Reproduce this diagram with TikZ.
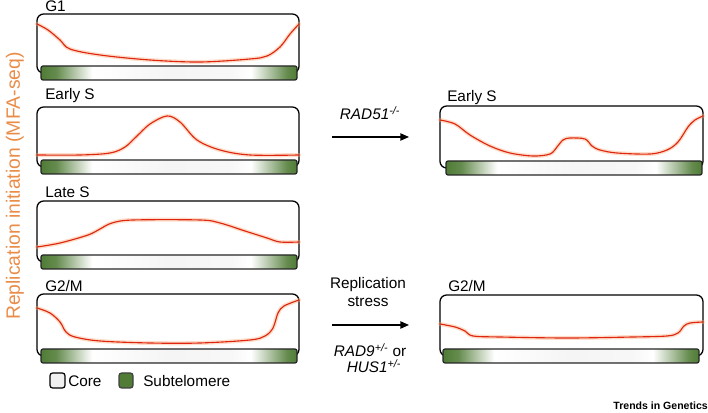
\documentclass[tikz,border=0pt]{standalone}
\usepackage{fontspec}
\setmainfont{Liberation Sans}
\usetikzlibrary{arrows.meta}
\definecolor{sg}{RGB}{80,124,54}
\definecolor{curvered}{RGB}{222,38,16}
\definecolor{glowc}{RGB}{250,170,120}
\definecolor{axisorange}{RGB}{233,140,72}
\pgfdeclarehorizontalshading{barshade}{100bp}{color(0bp)=(sg); color(25bp)=(sg); color(28bp)=(sg!88!white); color(31bp)=(sg!50!white); color(35bp)=(white); color(50bp)=(black!4); color(62bp)=(black!3); color(66bp)=(white); color(70bp)=(sg!50!white); color(73bp)=(sg!88!white); color(75bp)=(sg); color(100bp)=(sg)}
\tikzset{
  boxline/.style={draw=black, line width=0.95pt, rounded corners=5pt},
  barfill/.style={draw=black!85, line width=0.9pt, rounded corners=1.5pt, shading=barshade},
  curveglow/.style={draw=glowc, line width=3pt, opacity=0.4, line cap=round, line join=round},
  curveline/.style={draw=curvered, line width=0.85pt, line cap=round, line join=round},
  lbl/.style={font=\fontsize{11.5}{13}\selectfont, inner sep=0pt, anchor=base west},
  albl/.style={font=\fontsize{11.5}{13}\selectfont, inner sep=0pt, anchor=base},
  arr/.style={line width=1pt, -{Triangle[length=6.5pt,width=5.5pt]}},
}
\newcommand\panelbox[6]{%
  \draw[boxline] (#1,#3) rectangle (#2,#6+7);
}
\newcommand\panelbar[3]{%
  \path[barfill] (#1,#3) rectangle (#2,#3+14);
}
\newcommand\replcurve[1]{%
  \draw[curveglow] plot[smooth,tension=0.55] coordinates {#1};
  \draw[curveline] plot[smooth,tension=0.55] coordinates {#1};
}
\begin{document}
\begin{tikzpicture}[x=0.75pt,y=-0.75pt]
\useasboundingbox (0,0) rectangle (708,413);

% y axis label
\node[rotate=90, text=axisorange, font=\fontsize{14.5}{16}\selectfont, inner sep=0pt] (ylab) at (15,186) {Replication initiation (MFA-seq)};

% ---- G1 ----
\node[lbl] (lg1) at (45,12) {G1};
\panelbox{37}{299}{14}{41}{297}{66}
\replcurve{(37,24) (48,30) (60,40) (70,49) (100,55) (150,60) (200,62) (250,59) (267,56) (280,47) (290,34) (299,24)}
\panelbar{41}{297}{66}

% ---- Early S ----
\node[lbl] (les) at (45,100) {Early S};
\panelbox{37}{299}{107}{41}{297}{160}
\replcurve{(37,155) (80,155) (110,153) (125,147) (137,136) (150,124) (167,116) (180,122) (197,140) (220,150) (250,155) (299,155)}
\panelbar{41}{297}{160}

% ---- Late S ----
\node[lbl] (lls) at (45,198) {Late S};
\panelbox{37}{299}{201}{41}{297}{255}
\replcurve{(37,247) (60,243) (88,235) (100,229) (112,223) (133,220) (200,220) (220,223) (245,231) (267,238) (280,242) (299,242)}
\panelbar{41}{297}{255}

% ---- G2/M ----
\node[lbl] (lg2) at (45,292) {G2/M};
\panelbox{37}{299}{294}{41}{297}{349}
\replcurve{(37,308) (50,313) (60,322) (66,332) (75,337) (100,341) (150,343) (200,343) (250,340) (265,336) (273,328) (278,313) (284,306) (299,300)}
\panelbar{41}{297}{349}

% ---- Right Early S ----
\node[lbl] (res) at (447,102) {Early S};
\panelbox{440}{703}{106}{446}{702}{161}
\replcurve{(440,120) (455,124) (470,135) (490,146) (510,153) (533,156) (550,154) (557,147) (563,140) (570,138) (585,139) (592,146) (600,150) (617,153) (650,154) (667,150) (678,142) (688,127) (695,120) (703,116)}
\panelbar{446}{702}{161}

% ---- Right G2/M ----
\node[lbl] (rg2) at (448,292) {G2/M};
\panelbox{440}{703}{295}{443}{699}{349}
\replcurve{(440,324) (455,327) (465,331) (473,336) (500,337) (567,338) (633,337) (667,336) (678,333) (684,326) (690,323) (703,322)}
\panelbar{443}{699}{349}

% ---- arrows ----
\coordinate (a1s) at (332,137);
\coordinate (a1e) at (409,137);
\draw[arr] (a1s) -- (a1e);
\node[albl] (rad51) at (370,120) {\textit{RAD51}\textsuperscript{\textit{-/-}}};

\coordinate (a2s) at (332,325);
\coordinate (a2e) at (409,325);
\draw[arr] (a2s) -- (a2e);
\node[albl] (rs1) at (368,289) {Replication};
\node[albl] (rs2) at (368,307) {stress};
\node[albl] (rad9) at (370,357) {\textit{RAD9}\textsuperscript{\textit{+/-}} or};
\node[albl] (hus1) at (374,373) {\textit{HUS1}\textsuperscript{\textit{+/-}}};

% ---- legend ----
\draw[rounded corners=2pt, fill=black!6, line width=0.9pt] (50,373) rectangle (65,388);
\node[lbl] (lcore) at (68,387) {Core};
\draw[rounded corners=2pt, fill=sg, draw=black!75, line width=0.9pt] (119,373) rectangle (133,388);
\node[lbl] (lsub) at (143,387) {Subtelomere};

% ---- journal tag ----
\node[anchor=base east, inner sep=0pt, font=\bfseries\fontsize{7.9}{9}\selectfont] (tig) at (708,410) {Trends in Genetics};
\end{tikzpicture}
\end{document}
